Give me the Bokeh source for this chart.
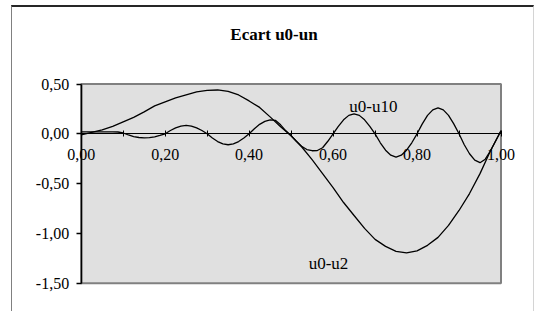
from bokeh.plotting import figure
from bokeh.models import Range1d, FixedTicker, ColumnDataSource, LinearAxis
from bokeh.core.properties import value
from bokeh.embed import file_html
from bokeh.resources import INLINE

# ---- data ----
x_u2 = [0.0, 0.025, 0.05, 0.075, 0.1, 0.125, 0.15, 0.175, 0.2, 0.225,
        0.25, 0.275, 0.3, 0.325, 0.35, 0.375, 0.4, 0.425, 0.45, 0.475,
        0.5, 0.525, 0.55, 0.575, 0.6, 0.625, 0.65, 0.675, 0.7, 0.725,
        0.75, 0.775, 0.8, 0.825, 0.85, 0.875, 0.9, 0.925, 0.95, 0.975, 1.0]
u0_u2 = [-0.01, 0.015, 0.04, 0.075, 0.12, 0.165, 0.22, 0.28, 0.32, 0.36,
         0.39, 0.42, 0.435, 0.44, 0.425, 0.39, 0.33, 0.265, 0.17, 0.07,
         -0.02, -0.13, -0.26, -0.40, -0.54, -0.69, -0.82, -0.95, -1.06, -1.13,
         -1.18, -1.195, -1.175, -1.12, -1.04, -0.92, -0.77, -0.60, -0.40, -0.17, 0.03]

x_u10 = [0.0, 0.0125, 0.025, 0.0375, 0.05, 0.0625, 0.075, 0.0875,
         0.1, 0.1125, 0.125, 0.1375, 0.15, 0.1625, 0.175, 0.1875,
         0.2, 0.2125, 0.225, 0.2375, 0.25, 0.2625, 0.275, 0.2875,
         0.3, 0.3125, 0.325, 0.3375, 0.35, 0.3625, 0.375, 0.3875,
         0.4, 0.4125, 0.425, 0.4375, 0.45, 0.4625, 0.475, 0.4875,
         0.5, 0.5125, 0.525, 0.5375, 0.55, 0.5625, 0.575, 0.5875,
         0.6, 0.6125, 0.625, 0.6375, 0.65, 0.6625, 0.675, 0.6875,
         0.7, 0.7125, 0.725, 0.7375, 0.75, 0.7625, 0.775, 0.7875,
         0.8, 0.8125, 0.825, 0.8375, 0.85, 0.8625, 0.875, 0.8875,
         0.9, 0.9125, 0.925, 0.9375, 0.95, 0.9625, 0.975, 0.9875, 1.0]
u0_u10 = [0.02, 0.02, 0.02, 0.02, 0.02, 0.02, 0.02, 0.018,
          0.008, -0.012, -0.028, -0.037, -0.04, -0.038, -0.03, -0.016,
          0.0, 0.033, 0.06, 0.078, 0.085, 0.078, 0.06, 0.033,
          0.0, -0.042, -0.078, -0.102, -0.11, -0.102, -0.078, -0.042,
          0.0, 0.05, 0.095, 0.125, 0.14, 0.135, 0.09, 0.03,
          -0.02, -0.075, -0.125, -0.158, -0.17, -0.168, -0.14, -0.075,
          0.0, 0.075, 0.14, 0.185, 0.2, 0.185, 0.14, 0.075,
          0.0, -0.09, -0.165, -0.215, -0.235, -0.215, -0.165, -0.09,
          0.0, 0.1, 0.185, 0.24, 0.26, 0.24, 0.185, 0.1,
          0.0, -0.11, -0.2, -0.265, -0.29, -0.255, -0.17, -0.07, 0.03]

series_names = ["u0-u10", "u0-u2"]
label_x = [0.696, 0.589]
label_y = [0.274, -1.30]

x_ticks = [0.0, 0.2, 0.4, 0.6, 0.8, 1.0]
x_tick_labels = ["0,00", "0,20", "0,40", "0,60", "0,80", "1,00"]
x_minor_ticks = [0.1, 0.3, 0.5, 0.7, 0.9]
y_ticks = [-1.5, -1.0, -0.5, 0.0, 0.5]
y_tick_labels = ["-1,50", "-1,00", "-0,50", "0,00", "0,50"]

FONT = "Liberation Serif"

# ---- layout (canvas pixels) ----
W, H = 523, 306
FRAME_TOP = 50
PX_X0, PX_X1 = 68.7, 488.5      # canvas x of x=0 and x=1
PX_YT, PX_YB = 76.5, 275.7      # canvas y of top tick and bottom tick
ppx = (PX_X1 - PX_X0) / (x_ticks[-1] - x_ticks[0])
ppy = (PX_YB - PX_YT) / (y_ticks[-1] - y_ticks[0])
x_start = x_ticks[0] - PX_X0 / ppx
x_end = x_ticks[0] + (W - PX_X0) / ppx
y_top = y_ticks[-1] + (PX_YT - FRAME_TOP) / ppy
y_bot = y_ticks[0] - (H - PX_YB) / ppy

p = figure(width=W, height=H, output_backend="svg", toolbar_location=None,
           x_range=Range1d(x_start, x_end), y_range=Range1d(y_bot, y_top),
           min_border_left=0, min_border_right=0, min_border_top=FRAME_TOP,
           min_border_bottom=0, x_axis_location=None, y_axis_location=None)

p.styles = {"margin-left": "11px", "margin-top": "5px",
            "border-left": "1px solid #808080",
            "border-top": "2px solid #262626",
            "border-right": "1px solid #d4d4d4"}

p.background_fill_color = "white"
p.border_fill_color = "white"
p.outline_line_color = None
p.grid.visible = False

# title
p.title.text = "Ecart u0-un"
p.title.align = "center"
p.title.text_font = FONT
p.title.text_font_style = "bold"
p.title.text_font_size = "17px"
p.title.text_color = "black"
p.title.standoff = 27

# plot area (gray box spanning the axis ranges)
p.quad(left=[x_ticks[0]], right=[x_ticks[-1]], bottom=[y_ticks[0]], top=[y_ticks[-1]],
       fill_color="#E0E0E0", line_color="#808080", line_width=2)

# x axis crossing at y = 0
xa = LinearAxis(fixed_location=0, bounds=(x_ticks[0], x_ticks[-1]))
xa.ticker = FixedTicker(ticks=x_ticks, minor_ticks=x_minor_ticks)
xa.major_label_overrides = dict(zip(x_ticks, x_tick_labels))
xa.axis_line_color = "black"
xa.axis_line_width = 1
xa.major_tick_in = 3
xa.major_tick_out = 3
xa.minor_tick_in = 3
xa.minor_tick_out = 3
xa.major_tick_line_color = "black"
xa.minor_tick_line_color = "black"
xa.major_label_standoff = 12
xa.major_label_text_font = FONT
xa.major_label_text_font_size = "16px"
xa.major_label_text_color = "black"
p.add_layout(xa, "below")

# y axis at x = 0
ya = LinearAxis(fixed_location=0, bounds=(y_ticks[0], y_ticks[-1]))
ya.ticker = FixedTicker(ticks=y_ticks)
ya.major_label_overrides = dict(zip(y_ticks, y_tick_labels))
ya.axis_line_color = "black"
ya.axis_line_width = 1.5
ya.major_tick_in = 0
ya.major_tick_out = 5
ya.major_tick_line_color = "black"
ya.major_tick_line_width = 1.5
ya.minor_tick_line_color = None
ya.major_label_standoff = 7
ya.major_label_text_font = FONT
ya.major_label_text_font_size = "16px"
ya.major_label_text_color = "black"
p.add_layout(ya, "left")

# curves
p.line(x_u2, u0_u2, line_color="black", line_width=1.3)
p.line(x_u10, u0_u10, line_color="black", line_width=1.3)

lab_src = ColumnDataSource(dict(x=label_x, y=label_y, t=series_names))
p.text(x="x", y="y", text="t", source=lab_src, text_font=value(FONT),
       text_font_size="17px", text_align="center", text_baseline="middle",
       text_color="black")

open("out.html", "w").write(file_html(p, INLINE))
